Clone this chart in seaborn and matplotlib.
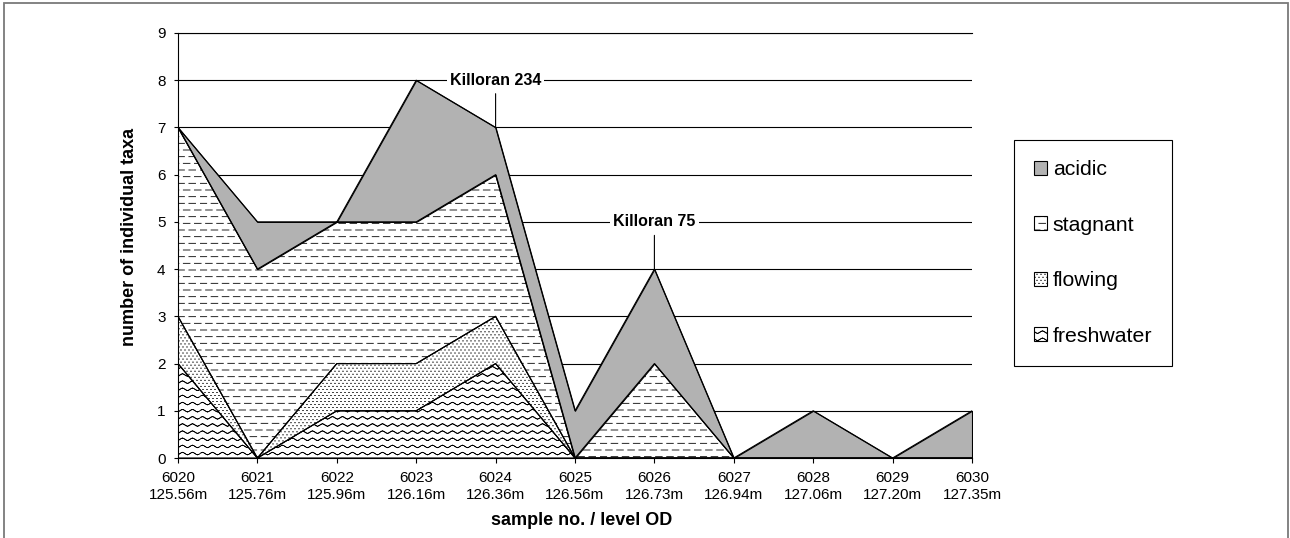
import warnings
warnings.filterwarnings("ignore")
import numpy as np
import pandas as pd
import matplotlib
matplotlib.use("Agg")
import matplotlib.pyplot as plt
import matplotlib.hatch as mhatch
from matplotlib.path import Path
from matplotlib.patches import Rectangle
import seaborn as sns

# ---------------- data ----------------
samples = ["6020", "6021", "6022", "6023", "6024", "6025", "6026", "6027", "6028", "6029", "6030"]
levels = ["125.56m", "125.76m", "125.96m", "126.16m", "126.36m", "126.56m",
          "126.73m", "126.94m", "127.06m", "127.20m", "127.35m"]
freshwater = [2, 0, 1, 1, 2, 0, 0, 0, 0, 0, 0]
flowing = [1, 0, 1, 1, 1, 0, 0, 0, 0, 0, 0]
stagnant = [4, 4, 3, 3, 3, 0, 2, 0, 0, 0, 0]
acidic = [0, 1, 0, 3, 1, 1, 2, 0, 1, 0, 1]
series_names = ["freshwater", "flowing", "stagnant", "acidic"]
y_ticks = list(range(0, 10))
note_samples = ["6024", "6026"]
note_texts = ["Killoran 234", "Killoran 75"]
note_levels = [8, 5]


# ---------------- custom hatches ----------------
class WaveHatch(mhatch.HatchPatternBase):
    """Wavy lines built from short straight pieces (no enclosed area)."""
    def __init__(self, hatch, density):
        n = hatch.count("~")
        self.num_lines = int(round(n * density * 2.34))
        self.waves = 10
        self.npts = self.waves * 8 + 1
        self.num_vertices = self.num_lines * (self.npts - 1) * 2

    def set_vertices_and_codes(self, vertices, codes):
        x = np.linspace(0, 1, self.npts)
        m = (self.npts - 1) * 2
        k = 0
        for i in range(self.num_lines):
            y0 = (i + 0.5) / self.num_lines
            y = y0 + 0.012 * np.sin(2 * np.pi * self.waves * x)
            vertices[k:k + m:2, 0] = x[:-1]
            vertices[k:k + m:2, 1] = y[:-1]
            vertices[k + 1:k + m:2, 0] = x[1:]
            vertices[k + 1:k + m:2, 1] = y[1:]
            codes[k:k + m:2] = Path.MOVETO
            codes[k + 1:k + m:2] = Path.LINETO
            k += m


class DashHatch(mhatch.HatchPatternBase):
    def __init__(self, hatch, density):
        n = hatch.count("_")
        rows = int(round(n * density * 2.5))
        per = 9
        segs = []
        for r in range(rows):
            y = (r + 0.5) / max(rows, 1)
            off = 0.0 if r % 2 == 0 else 0.5
            for k in range(-1, per + 1):
                a = (k + off) / per
                b = a + 0.6 / per
                a, b = max(a, 0.0), min(b, 1.0)
                if b > a:
                    segs.append((a, b, y))
        self.segs = segs
        self.num_vertices = 2 * len(segs)

    def set_vertices_and_codes(self, vertices, codes):
        for i, (a, b, y) in enumerate(self.segs):
            vertices[2 * i] = (a, y)
            vertices[2 * i + 1] = (b, y)
            codes[2 * i] = Path.MOVETO
            codes[2 * i + 1] = Path.LINETO


class DotHatch(mhatch.HatchPatternBase):
    def __init__(self, hatch, density):
        n = hatch.count(":")
        rows = int(round(n * density * 5.5))
        cols = int(round(n * density * 4.2))
        pts = []
        for r in range(rows):
            y = (r + 0.5) / max(rows, 1)
            off = 0.25 if r % 2 == 0 else 0.75
            for c in range(cols):
                pts.append(((c + off) / max(cols, 1), y))
        self.pts = pts
        self.num_vertices = 2 * len(pts)

    def set_vertices_and_codes(self, vertices, codes):
        for i, (x, y) in enumerate(self.pts):
            vertices[2 * i] = (x - 0.0045, y)
            vertices[2 * i + 1] = (x + 0.0045, y)
            codes[2 * i] = Path.MOVETO
            codes[2 * i + 1] = Path.LINETO


mhatch._hatch_types.extend([WaveHatch, DashHatch, DotHatch])
mhatch._validate_hatch_pattern = lambda h: None

# ---------------- style ----------------
sns.set_style("white")
plt.rcParams["font.family"] = ["Liberation Sans", "DejaVu Sans"]
plt.rcParams["hatch.linewidth"] = 0.6
plt.rcParams["axes.edgecolor"] = "black"
plt.rcParams["text.color"] = "black"
plt.rcParams["axes.labelcolor"] = "black"
plt.rcParams["xtick.color"] = "black"
plt.rcParams["ytick.color"] = "black"

W, H = 1290, 538
fig = plt.figure(figsize=(W / 100, H / 100), dpi=100)
ax = fig.add_axes([178 / W, 1 - 458 / H, (972 - 178) / W, (458 - 33) / H])

df = pd.DataFrame({"sample": samples, "level": levels, "freshwater": freshwater,
                   "flowing": flowing, "stagnant": stagnant, "acidic": acidic})
xpos = np.arange(len(df))

polys = ax.stackplot(xpos, *[df[s].to_numpy() for s in series_names],
                     colors=["white", "white", "white", "#B2B2B2"],
                     hatch=["~", ":", "_", None],
                     edgecolor="black", linewidth=0.8, zorder=2)

# outlines of stacked tops via seaborn
cum = df[series_names].cumsum(axis=1)
for s in series_names:
    sns.lineplot(x=xpos, y=cum[s].to_numpy(), color="black", linewidth=0.8,
                 ax=ax, zorder=3, legend=False)

ax.set_xlim(0, len(df) - 1)
ax.set_ylim(0, 9)
ax.set_yticks(y_ticks)
ax.set_xticks(xpos)
ax.set_xticklabels([f"{s}\n{l}" for s, l in zip(samples, levels)], fontsize=11,
                   linespacing=1.3)
ax.set_yticklabels([str(t) for t in y_ticks], fontsize=11)
ax.yaxis.grid(True, color="black", linewidth=0.8, zorder=0)
ax.set_axisbelow(True)
for side in ["left", "bottom", "top"]:
    ax.spines[side].set_color("black")
    ax.spines[side].set_linewidth(0.8)
ax.spines["right"].set_visible(False)
ax.tick_params(axis="x", direction="out", length=3.6, width=0.8, color="black", pad=5.5,
               bottom=True)
ax.tick_params(axis="y", direction="out", length=3, width=0.8, color="black", pad=6,
               left=True)

ax.set_xlabel("sample no. / level OD", fontsize=13, fontweight="bold")
ax.set_ylabel("number of individual taxa", fontsize=13, fontweight="bold")
ax.xaxis.set_label_coords(0.508, -0.127)
ax.yaxis.set_label_coords(-0.051, 0.52)

# annotations
total = cum["acidic"].to_numpy()
for s, txt, lvl in zip(note_samples, note_texts, note_levels):
    i = samples.index(s)
    ax.annotate(txt, xy=(xpos[i], total[i]), xytext=(xpos[i], lvl),
                ha="center", va="center", fontsize=11.5, fontweight="bold",
                bbox=dict(boxstyle="square,pad=0.2", fc="white", ec="none"),
                arrowprops=dict(arrowstyle="-", color="black", lw=0.8,
                                shrinkA=2, shrinkB=0),
                zorder=5)

# legend
leg = ax.legend(handles=polys[::-1], labels=series_names[::-1],
                loc="upper left", bbox_to_anchor=(1014 / W, 1 - 140 / H),
                bbox_transform=fig.transFigure, fontsize=15.3, frameon=True,
                fancybox=False, framealpha=1, edgecolor="black",
                handlelength=0.62, handleheight=0.62, handletextpad=0.25,
                labelspacing=1.72, borderpad=0.95, borderaxespad=0)
leg.get_frame().set_linewidth(0.8)

# outer chart border
fig.add_artist(Rectangle((3.5 / W, -0.05), (1288 - 3.5) / W, 1.05 - 3 / H,
                         transform=fig.transFigure, fill=False,
                         edgecolor="#7a7a7a", linewidth=1.3))

fig.savefig("out.png", dpi=100)
